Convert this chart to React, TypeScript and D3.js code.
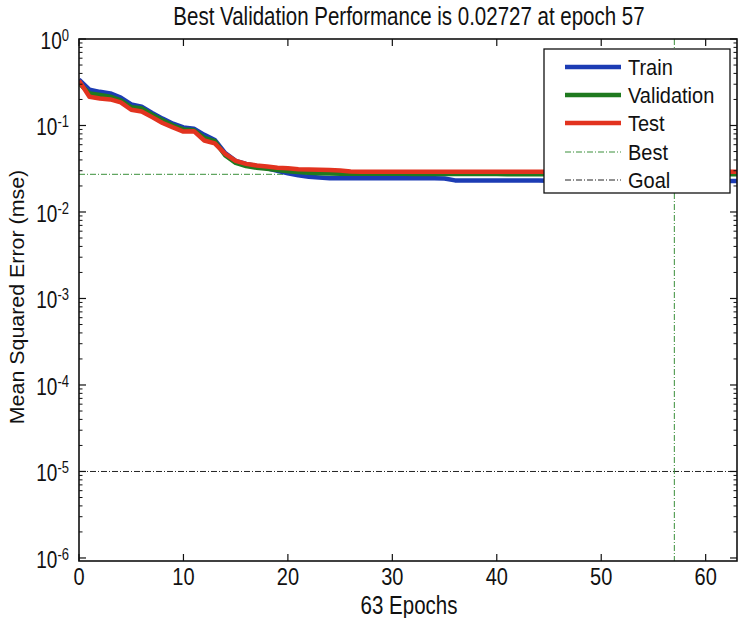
import React from "react";
import * as d3 from "d3";

const epochs = d3.range(0, 64);
const trainMse = [0.34, 0.26, 0.245, 0.235, 0.21, 0.175, 0.165, 0.14, 0.12, 0.105, 0.095, 0.092, 0.078, 0.068, 0.048, 0.039, 0.036, 0.034, 0.032, 0.03, 0.028, 0.0265, 0.0255, 0.025, 0.0246, 0.0245, 0.0245, 0.0245, 0.0245, 0.0245, 0.0245, 0.0245, 0.0245, 0.0245, 0.0245, 0.0244, 0.0232, 0.0232, 0.0231, 0.0231, 0.0231, 0.0231, 0.0231, 0.0231, 0.0231, 0.023, 0.023, 0.023, 0.023, 0.023, 0.023, 0.023, 0.023, 0.023, 0.0229, 0.0229, 0.0229, 0.0229, 0.0229, 0.0228, 0.0228, 0.0228, 0.0228, 0.0228];
const valMse = [0.31, 0.235, 0.225, 0.215, 0.195, 0.163, 0.158, 0.133, 0.115, 0.1, 0.09, 0.088, 0.072, 0.066, 0.045, 0.037, 0.034, 0.0325, 0.0315, 0.0305, 0.0295, 0.029, 0.0285, 0.028, 0.0278, 0.0276, 0.0276, 0.0276, 0.0276, 0.0276, 0.0276, 0.0276, 0.0275, 0.0275, 0.0275, 0.0275, 0.0275, 0.0275, 0.0275, 0.0275, 0.0275, 0.0274, 0.0274, 0.0274, 0.0274, 0.0274, 0.0274, 0.0274, 0.0274, 0.0274, 0.0273, 0.0273, 0.0273, 0.0273, 0.0273, 0.0273, 0.0273, 0.02727, 0.0273, 0.0273, 0.0274, 0.0274, 0.0274, 0.0274];
const testMse = [0.33, 0.215, 0.205, 0.2, 0.185, 0.152, 0.145, 0.125, 0.107, 0.095, 0.085, 0.086, 0.067, 0.062, 0.047, 0.039, 0.036, 0.0345, 0.0335, 0.0325, 0.032, 0.0312, 0.031, 0.0307, 0.0305, 0.0302, 0.0293, 0.0292, 0.0292, 0.0292, 0.0292, 0.0292, 0.0292, 0.0292, 0.0292, 0.0292, 0.0292, 0.0292, 0.0292, 0.0292, 0.0292, 0.0292, 0.0292, 0.0292, 0.0292, 0.0292, 0.0292, 0.0292, 0.0292, 0.0292, 0.0292, 0.0292, 0.0292, 0.0292, 0.0292, 0.0292, 0.0292, 0.0292, 0.0292, 0.0292, 0.0292, 0.0292, 0.0292, 0.0292];

const bestEpoch = 57;
const bestPerf = 0.02727;
const goal = 1e-5;
const xTicks = [0, 10, 20, 30, 40, 50, 60];
const yDecades = [0, -1, -2, -3, -4, -5, -6];
const titleText = "Best Validation Performance is 0.02727 at epoch 57";
const xLabel = "63 Epochs";
const yLabel = "Mean Squared Error  (mse)";
const legendNames = ["Train", "Validation", "Test", "Best", "Goal"];

const W = 739, H = 618;
const L = 79, R = 737, T = 39, B = 561;
const font = "'Liberation Sans', Arial, sans-serif";
const BLUE = "#1c3cb4";
const GREEN = "#1f7a1f";
const RED = "#e2331f";
const BESTC = "#3a8f3a";
const SY = 1.22;

function SText(props: { x: number; y: number; size: number; anchor?: string; sy?: number; children: React.ReactNode }) {
  const sy = props.sy ?? SY;
  return (
    <text transform={`translate(${props.x},${props.y}) scale(1,${sy})`} textAnchor={props.anchor || "start"} fontSize={props.size} fill="#111">
      {props.children}
    </text>
  );
}

export default function App() {
  const x = d3.scaleLinear().domain([0, 63]).range([L, R]);
  const y = d3.scaleLog().domain([Math.pow(10, -6.035), 1]).range([B, T]);
  const line = (vals: number[]) =>
    d3.line<number>().x((_, i) => x(epochs[i])).y((v) => y(v))(vals) || "";

  const minor: number[] = [];
  for (let d = -6; d < 0; d++) for (let k = 2; k <= 9; k++) minor.push(k * Math.pow(10, d));

  const series = [
    { vals: trainMse, color: BLUE },
    { vals: valMse, color: GREEN },
    { vals: testMse, color: RED },
  ];

  const legX = 544, legY = 49, legW = 186, legH = 144;
  const entryY = [67, 95, 123, 152, 180];
  const legColors = [BLUE, GREEN, RED, BESTC, "#222"];

  return (
    <svg width={W} height={H} style={{ position: "absolute", left: 0, top: 0, background: "#fff" }} fontFamily={font}>
      <rect x={0} y={0} width={W} height={H} fill="#fff" />
      <SText x={(L + R) / 2 + 1} y={25} size={20.5} anchor="middle">{titleText}</SText>
      <defs>
        <clipPath id="plotclip"><rect x={L} y={T} width={R - L} height={B - T} /></clipPath>
      </defs>
      <g clipPath="url(#plotclip)">
        <line x1={L} x2={R} y1={y(goal)} y2={y(goal)} stroke="#222" strokeWidth={1} strokeDasharray="6,2,1,2" />
        <line x1={L} x2={R} y1={y(bestPerf)} y2={y(bestPerf)} stroke={BESTC} strokeWidth={1} strokeDasharray="6,2,1,2" />
        <line x1={x(bestEpoch)} x2={x(bestEpoch)} y1={T} y2={B} stroke={BESTC} strokeWidth={1} strokeDasharray="6,2,1,2" />
        {series.map((s, i) => (
          <path key={i} d={line(s.vals)} fill="none" stroke={s.color} strokeWidth={4.5} strokeLinejoin="round" />
        ))}
      </g>
      <rect x={L} y={T} width={R - L} height={B - T} fill="none" stroke="#111" strokeWidth={1.6} />
      {xTicks.map((t) => (
        <g key={t}>
          <line x1={x(t)} x2={x(t)} y1={B} y2={B - 7} stroke="#111" strokeWidth={1.2} />
          <line x1={x(t)} x2={x(t)} y1={T} y2={T + 7} stroke="#111" strokeWidth={1.2} />
          <SText x={x(t)} y={585} size={20} anchor="middle">{t}</SText>
        </g>
      ))}
      {yDecades.map((d) => {
        const yy = y(Math.pow(10, d));
        return (
          <g key={d}>
            <line x1={L} x2={L + 7} y1={yy} y2={yy} stroke="#111" strokeWidth={1.2} />
            <line x1={R} x2={R - 7} y1={yy} y2={yy} stroke="#111" strokeWidth={1.2} />
            <SText x={69} y={yy + 10} size={19} anchor="end">
              10<tspan dy={-8 / SY} fontSize={13}>{d === 0 ? "0" : String(d)}</tspan>
            </SText>
          </g>
        );
      })}
      {minor.map((v, i) => (
        <g key={i}>
          <line x1={L} x2={L + 3.5} y1={y(v)} y2={y(v)} stroke="#111" strokeWidth={1} />
          <line x1={R} x2={R - 3.5} y1={y(v)} y2={y(v)} stroke="#111" strokeWidth={1} />
        </g>
      ))}
      <SText x={(L + R) / 2 + 1} y={614} size={20.5} anchor="middle">{xLabel}</SText>
      <text transform={`translate(24,297) rotate(-90) scale(1.07,1)`} textAnchor="middle" fontSize={20} fill="#111">{yLabel}</text>
      <rect x={legX} y={legY} width={legW} height={legH} fill="#fff" stroke="#111" strokeWidth={1.3} />
      {legendNames.map((n, i) => {
        const yy = entryY[i];
        const thick = i < 3;
        return (
          <g key={n}>
            <line x1={565} x2={621} y1={yy} y2={yy} stroke={legColors[i]} strokeWidth={thick ? 4.5 : 1} strokeDasharray={thick ? undefined : "6,2,1,2"} />
            <SText x={628} y={yy + 8} size={20} sy={1.12}>{n}</SText>
          </g>
        );
      })}
    </svg>
  );
}
